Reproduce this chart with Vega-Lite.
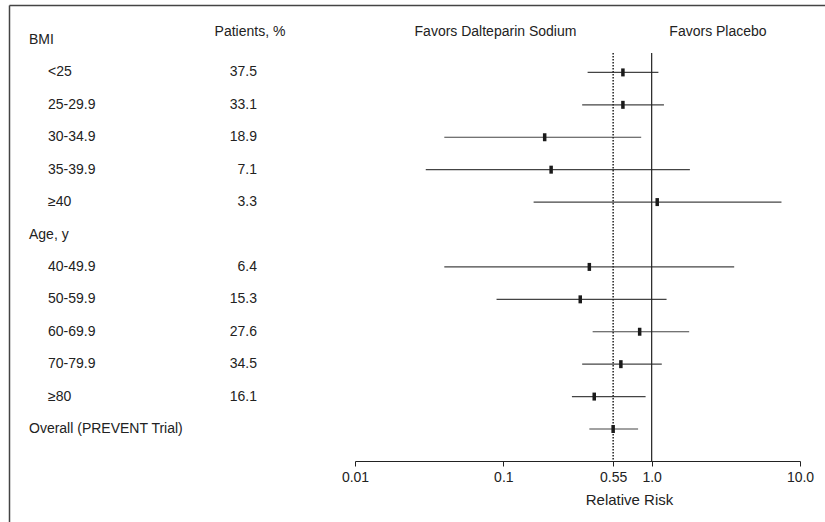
{
  "$schema": "https://vega.github.io/schema/vega-lite/v6.json",
  "width": 816,
  "height": 456,
  "padding": {"left": 9, "top": 5, "right": 0, "bottom": 61},
  "autosize": {"type": "none"},
  "background": "white",
  "config": {
    "view": {"stroke": null},
    "font": "Liberation Sans",
    "text": {"font": "Liberation Sans", "fontSize": 14, "color": "#222", "baseline": "middle"},
    "axis": {"grid": false}
  },
  "datasets": {
    "rows": [
      {"row": "BMI", "label": "BMI", "level": "group"},
      {"row": "<25", "label": "<25", "level": "item", "patients": "37.5", "rr": 0.64, "lo": 0.37, "hi": 1.11},
      {"row": "25-29.9", "label": "25-29.9", "level": "item", "patients": "33.1", "rr": 0.64, "lo": 0.34, "hi": 1.21},
      {"row": "30-34.9", "label": "30-34.9", "level": "item", "patients": "18.9", "rr": 0.19, "lo": 0.04, "hi": 0.85},
      {"row": "35-39.9", "label": "35-39.9", "level": "item", "patients": "7.1", "rr": 0.21, "lo": 0.03, "hi": 1.81},
      {"row": "≥40", "label": "≥40", "level": "item", "patients": "3.3", "rr": 1.09, "lo": 0.16, "hi": 7.5},
      {"row": "Age, y", "label": "Age, y", "level": "group"},
      {"row": "40-49.9", "label": "40-49.9", "level": "item", "patients": "6.4", "rr": 0.38, "lo": 0.04, "hi": 3.6},
      {"row": "50-59.9", "label": "50-59.9", "level": "item", "patients": "15.3", "rr": 0.33, "lo": 0.09, "hi": 1.26},
      {"row": "60-69.9", "label": "60-69.9", "level": "item", "patients": "27.6", "rr": 0.83, "lo": 0.4, "hi": 1.79},
      {"row": "70-79.9", "label": "70-79.9", "level": "item", "patients": "34.5", "rr": 0.62, "lo": 0.34, "hi": 1.17},
      {"row": "≥80", "label": "≥80", "level": "item", "patients": "16.1", "rr": 0.41, "lo": 0.29, "hi": 0.91},
      {"row": "Overall", "label": "Overall (PREVENT Trial)", "level": "overall", "rr": 0.55, "lo": 0.38, "hi": 0.81}
    ]
  },
  "data": {"name": "rows"},
  "layer": [
    {
      "layer": [
        {
          "transform": [{"filter": "isValid(datum.lo)"}],
          "mark": {"type": "rule", "color": "#444", "strokeWidth": 1.2},
          "encoding": {
            "x": {
              "field": "lo", "type": "quantitative",
              "scale": {"type": "log", "domain": [0.01, 10], "range": [346, 791], "nice": false},
              "axis": {
                "orient": "bottom",
                "values": [0.01, 0.1, 0.55, 1, 10],
                "labelExpr": "datum.value == 0.01 ? '0.01' : datum.value == 0.1 ? '0.1' : datum.value == 0.55 ? '0.55' : datum.value == 1 ? '1.0' : '10.0'",
                "labelFlush": false,
                "labelOverlap": false,
                "domainColor": "#222",
                "tickColor": "#222",
                "tickSize": 5,
                "labelFont": "Liberation Sans",
                "labelFontSize": 14,
                "labelColor": "#222",
                "labelPadding": 4,
                "title": "Relative Risk",
                "titleFont": "Liberation Sans",
                "titleFontSize": 15,
                "titleFontWeight": "normal",
                "titleColor": "#222",
                "titlePadding": 8,
                "titleX": 620,
                "grid": false
              }
            },
            "x2": {"field": "hi"},
            "y": {
              "field": "row", "type": "nominal",
              "scale": {"type": "point", "domain": ["BMI", "<25", "25-29.9", "30-34.9", "35-39.9", "≥40", "Age, y", "40-49.9", "50-59.9", "60-69.9", "70-79.9", "≥80", "Overall"], "range": [35, 424], "padding": 0},
              "axis": null
            }
          }
        },
        {
          "data": {"values": [{}]},
          "mark": {"type": "rule", "color": "#222", "strokeWidth": 1.2, "yOffset": 13},
          "encoding": {
            "x": {"datum": 1, "type": "quantitative"},
            "y": {"datum": "BMI", "type": "nominal"},
            "y2": {"value": "height"}
          }
        },
        {
          "data": {"values": [{}]},
          "mark": {"type": "rule", "color": "#222", "strokeWidth": 1.5, "strokeDash": [1.5, 1.5], "yOffset": 13},
          "encoding": {
            "x": {"datum": 0.55, "type": "quantitative"},
            "y": {"datum": "BMI", "type": "nominal"},
            "y2": {"value": "height"}
          }
        },
        {
          "transform": [{"filter": "isValid(datum.rr)"}],
          "mark": {"type": "tick", "orient": "vertical", "thickness": 3.5, "size": 8, "color": "#1a1a1a", "opacity": 1},
          "encoding": {
            "x": {"field": "rr", "type": "quantitative"},
            "y": {"field": "row", "type": "nominal"}
          }
        },
        {
          "data": {"values": [{}]},
          "mark": {"type": "text", "align": "center", "dy": -8},
          "encoding": {
            "x": {"datum": 0.0885, "type": "quantitative"},
            "y": {"datum": "BMI", "type": "nominal"},
            "text": {"value": "Favors Dalteparin Sodium"}
          }
        },
        {
          "data": {"values": [{}]},
          "mark": {"type": "text", "align": "center", "dy": -8},
          "encoding": {
            "x": {"datum": 2.8, "type": "quantitative"},
            "y": {"datum": "BMI", "type": "nominal"},
            "text": {"value": "Favors Placebo"}
          }
        }
      ]
    },
    {
      "layer": [
        {
          "transform": [{"filter": "datum.level != 'item'"}],
          "mark": {"type": "text", "align": "left"},
          "encoding": {
            "x": {"datum": 20, "type": "quantitative", "scale": {"domain": [0, 816], "nice": false}, "axis": null},
            "y": {
              "field": "row", "type": "nominal",
              "scale": {"type": "point", "domain": ["BMI", "<25", "25-29.9", "30-34.9", "35-39.9", "≥40", "Age, y", "40-49.9", "50-59.9", "60-69.9", "70-79.9", "≥80", "Overall"], "range": [35, 424], "padding": 0},
              "axis": null
            },
            "text": {"field": "label"}
          }
        },
        {
          "transform": [{"filter": "datum.level == 'item'"}],
          "mark": {"type": "text", "align": "left"},
          "encoding": {
            "x": {"datum": 39, "type": "quantitative"},
            "y": {"field": "row", "type": "nominal"},
            "text": {"field": "label"}
          }
        },
        {
          "transform": [{"filter": "datum.level == 'item'"}],
          "mark": {"type": "text", "align": "right"},
          "encoding": {
            "x": {"datum": 248, "type": "quantitative"},
            "y": {"field": "row", "type": "nominal"},
            "text": {"field": "patients"}
          }
        },
        {
          "data": {"values": [{}]},
          "mark": {"type": "text", "align": "center", "dy": -8},
          "encoding": {
            "x": {"datum": 241, "type": "quantitative"},
            "y": {"datum": "BMI", "type": "nominal"},
            "text": {"value": "Patients, %"}
          }
        }
      ]
    },
    {
      "data": {"values": [{"f": 0}]},
      "mark": {"type": "point", "opacity": 0},
      "encoding": {
        "x": {
          "field": "f", "type": "quantitative",
          "scale": {"domain": [0, 1], "nice": false},
          "axis": {"orient": "top", "domain": true, "domainColor": "#444", "domainWidth": 1.5, "ticks": false, "labels": false, "grid": false, "title": null}
        },
        "y": {
          "field": "f", "type": "quantitative",
          "scale": {"domain": [0, 1], "range": [0, 517], "nice": false},
          "axis": {"orient": "left", "domain": true, "domainColor": "#444", "domainWidth": 1.5, "ticks": false, "labels": false, "grid": false, "title": null}
        }
      }
    }
  ],
  "resolve": {"scale": {"x": "independent", "y": "independent"}, "axis": {"x": "independent", "y": "independent"}}
}
